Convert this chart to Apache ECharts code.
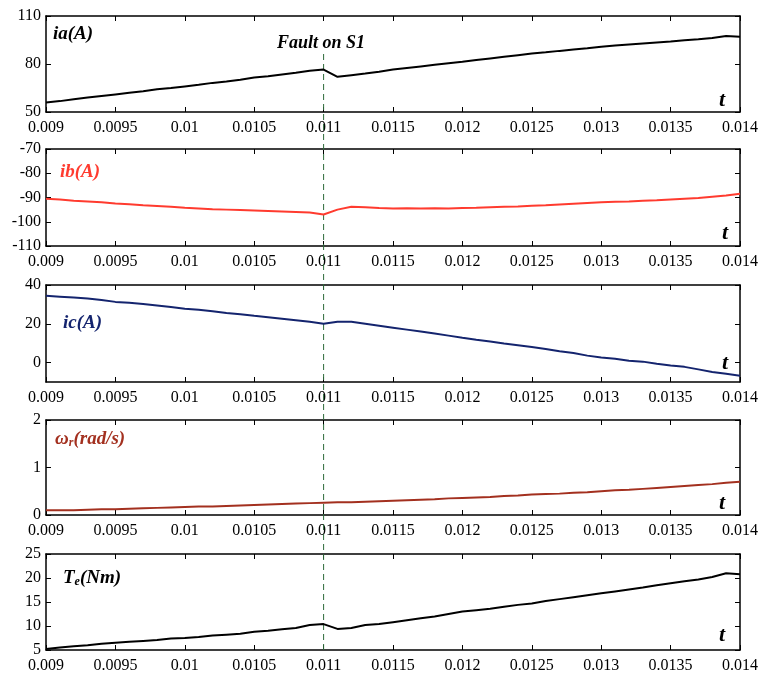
<!DOCTYPE html>
<html><head><meta charset="utf-8">
<script src="https://cdn.jsdelivr.net/npm/echarts@6/dist/echarts.min.js"></script>
<style>html,body{margin:0;padding:0;background:#fff}#c{width:763px;height:675px}</style>
</head><body><div id="c"></div>
<script>
const t = [0.009,0.0091,0.0092,0.0093,0.0094,0.0095,0.0096,0.0097,0.0098,0.0099,
0.0100,0.0101,0.0102,0.0103,0.0104,0.0105,0.0106,0.0107,0.0108,0.0109,
0.0110,0.0111,0.0112,0.0113,0.0114,0.0115,0.0116,0.0117,0.0118,0.0119,
0.0120,0.0121,0.0122,0.0123,0.0124,0.0125,0.0126,0.0127,0.0128,0.0129,
0.0130,0.0131,0.0132,0.0133,0.0134,0.0135,0.0136,0.0137,0.0138,0.0139,0.0140];
const ia = [56,56.8,58,59,60,61,62,63,64.2,65,66,67,68.2,69,70.2,71.5,72.3,73.5,74.5,75.8,
76.5,72,73,74,75.2,76.5,77.5,78.5,79.5,80.5,81.4,82.5,83.5,84.5,85.5,86.5,87.3,88.2,89,89.8,
90.8,91.5,92.2,92.8,93.4,94,94.8,95.5,96.3,97.5,97];
const ib = [-90.5,-90.8,-91.3,-91.6,-92,-92.5,-92.8,-93.2,-93.5,-93.8,-94.2,-94.5,-94.8,-95,-95.2,-95.4,-95.6,-95.8,-96,-96.2,
-97,-95,-93.8,-94,-94.3,-94.5,-94.4,-94.5,-94.4,-94.5,-94.3,-94.2,-94,-93.8,-93.7,-93.4,-93.2,-92.9,-92.6,-92.3,
-92,-91.8,-91.6,-91.3,-91.1,-90.8,-90.5,-90.2,-89.7,-89.2,-88.5];
const ic = [34.5,34,33.5,33,32.3,31.3,30.8,30.2,29.4,28.6,27.8,27.2,26.5,25.6,24.9,24.1,23.4,22.6,21.8,21,
20,21,21,20,19,18,17,16,15,13.9,12.8,11.8,10.9,9.9,9,8,7,5.8,5,3.6,
2.6,2,1,0.5,-0.6,-1.5,-2.2,-3.5,-4.8,-5.8,-6.8];
const wr = [0.10,0.10,0.10,0.11,0.12,0.12,0.13,0.14,0.15,0.16,0.17,0.18,0.18,0.19,0.20,0.21,0.22,0.23,0.24,0.25,
0.26,0.27,0.27,0.28,0.29,0.30,0.31,0.32,0.33,0.35,0.36,0.37,0.38,0.40,0.41,0.43,0.44,0.45,0.47,0.48,
0.50,0.52,0.53,0.55,0.57,0.59,0.61,0.63,0.65,0.68,0.70];
const te = [5.2,5.5,5.8,6.0,6.3,6.5,6.7,6.9,7.1,7.4,7.5,7.7,8,8.2,8.4,8.8,9,9.3,9.6,10.2,
10.4,9.4,9.6,10.2,10.4,10.8,11.2,11.6,12,12.5,13,13.3,13.6,14,14.4,14.7,15.2,15.6,16,16.4,
16.8,17.2,17.6,18,18.5,18.9,19.3,19.7,20.2,21,20.8];
const faultTime = 0.011;
const xTicks = {min:0.009, max:0.014, interval:0.0005};
const yTicks = [[50,80,110],[-110,-100,-90,-80,-70],[0,20,40],[0,1,2],[5,10,15,20,25]];
const yRanges = [[50,110],[-110,-70],[-10,40],[0,2],[5,25]];
const seriesVals = [ia, ib, ic, wr, te];
const colors = ['#000000','#ff3b2f','#14246e','#a3301f','#000000'];

const tops = [16,149,285,420,554];
const heights = [96,97,97,95,96];
const FF = '"Liberation Serif","Times New Roman",serif';

const grid=[], xAxis=[], yAxis=[], series=[];
for (let i=0;i<5;i++){
  grid.push({left:46, right:23, top:tops[i], height:heights[i]});
  const axLine = {show:true, onZero:false, lineStyle:{color:'#000', width:1.5}};
  xAxis.push({gridIndex:i, type:'value', position:'bottom', min:xTicks.min, max:xTicks.max, interval:xTicks.interval,
    axisLine:axLine, axisTick:{inside:true, length:5, lineStyle:{color:'#000', width:1}},
    axisLabel:{color:'#000', fontFamily:FF, fontSize:16, margin:8, formatter:v=>String(+v.toFixed(4))},
    splitLine:{show:false}});
  xAxis.push({gridIndex:i, type:'value', position:'top', min:xTicks.min, max:xTicks.max, interval:xTicks.interval,
    axisLine:axLine, axisTick:{inside:true, length:5, lineStyle:{color:'#000', width:1}},
    axisLabel:{show:false}, splitLine:{show:false}});
  yAxis.push({gridIndex:i, type:'value', position:'left', min:yRanges[i][0], max:yRanges[i][1],
    axisLine:axLine, axisTick:{inside:true, length:5, customValues:yTicks[i], lineStyle:{color:'#000', width:1}},
    axisLabel:{color:'#000', fontFamily:FF, fontSize:16, margin:5, customValues:yTicks[i]},
    splitLine:{show:false}});
  yAxis.push({gridIndex:i, type:'value', position:'right', min:yRanges[i][0], max:yRanges[i][1],
    axisLine:axLine, axisTick:{inside:true, length:5, customValues:yTicks[i], lineStyle:{color:'#000', width:1}},
    axisLabel:{show:false}, splitLine:{show:false}});
  series.push({type:'line', xAxisIndex:2*i, yAxisIndex:2*i, showSymbol:false, symbol:'none',
    data:t.map((x,k)=>[x, seriesVals[i][k]]), lineStyle:{color:colors[i], width:2}, silent:true, animation:false});
}
// overlay grid for the fault marker (spans all panels)
grid.push({left:46, right:23, top:50, bottom:25});
xAxis.push({gridIndex:5, type:'value', min:xTicks.min, max:xTicks.max, interval:xTicks.interval, show:false});
yAxis.push({gridIndex:5, type:'value', min:0, max:1, interval:1, show:false});
series.push({type:'line', xAxisIndex:10, yAxisIndex:10, symbol:'none', showSymbol:false, animation:false, silent:true,
  data:[[faultTime,0],[faultTime,1]], z:1,
  lineStyle:{color:'#2e6b3a', width:1, type:[6,4]}});

const lbl = (txt, x, y, color, size) => ({type:'text', x, y, silent:true,
  style:{text:txt, fill:color, fontFamily:FF, fontSize:size, fontWeight:'bold', fontStyle:'italic', verticalAlign:'middle'}});
const rich = (txt, x, y, color) => ({type:'text', x, y, silent:true,
  style:{text:txt, verticalAlign:'middle', rich:{
    a:{fill:color, fontFamily:FF, fontSize:19, fontWeight:'bold', fontStyle:'italic'},
    s:{fill:color, fontFamily:FF, fontSize:12, fontWeight:'bold', fontStyle:'italic', padding:[8,0,0,0]}}}});
const tLab = (x,y) => ({type:'text', x, y, silent:true,
  style:{text:'t', fill:'#000', fontFamily:FF, fontSize:22, fontWeight:'bold', fontStyle:'italic', align:'center', verticalAlign:'middle'}});

const graphic = [
  lbl('ia(A)', 53, 34, '#000', 19),
  lbl('Fault on S1', 277, 43, '#000', 18),
  lbl('ib(A)', 60, 172, colors[1], 19),
  lbl('ic(A)', 63, 323, colors[2], 19),
  rich('{a|ω}{s|r}{a|(rad/s)}', 55, 439, colors[3]),
  rich('{a|T}{s|e}{a|(Nm)}', 63, 578, '#000'),
  tLab(722,100), tLab(725,233), tLab(725,363), tLab(722,503), tLab(722,635)
];

const chart = echarts.init(document.getElementById('c'), null, {renderer:'canvas'});
chart.setOption({animation:false, backgroundColor:'#fff', grid, xAxis, yAxis, series, graphic});
</script></body></html>
